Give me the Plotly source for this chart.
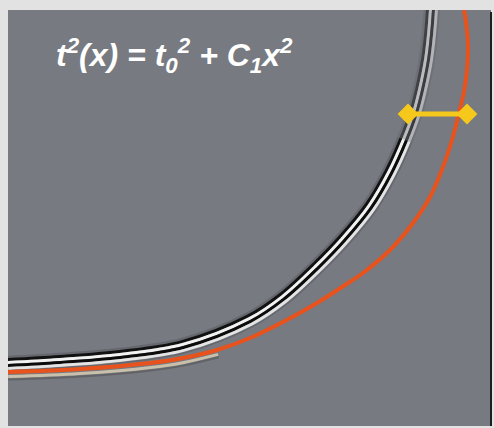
import numpy as np
import plotly.graph_objects as go

# picture coordinates (pixels, y grows downward)
event_x = [8, 60, 120, 183, 250, 283, 317, 343, 370, 390, 405, 415, 421, 427, 430, 432]
event_y = [364, 361, 356, 346, 320, 298, 267, 240, 207, 173, 140, 113, 90, 60, 35, 10]

fit_x = [8, 80, 150, 183, 217, 250, 283, 317, 345, 363, 390, 413, 430, 443, 452, 459, 464, 467, 468, 466, 464]
fit_y = [372, 369, 363, 358, 350, 338, 322, 303, 285, 273, 250, 223, 197, 167, 140, 113, 92, 70, 45, 22, 10]

moveout_x = [408, 467]
moveout_y = [114, 114]

equation = "t<sup>2</sup>(x) = t<sub>0</sub><sup>2</sup> + C<sub>1</sub>x<sup>2</sup>"

PANEL = "#777a80"
ORANGE = "#e8521c"
YELLOW = "#f6c81c"


def offset(xs, ys, d):
    """Shift a picked curve sideways by d pixels (positive = toward lower right)."""
    x = np.asarray(xs, float)
    y = np.asarray(ys, float)
    tx, ty = np.gradient(x), np.gradient(y)
    n = np.hypot(tx, ty)
    return x - ty / n * d, y + tx / n * d


fig = go.Figure()

# seismic wavelet: alternating troughs and peaks around the picked event
bands = [
    (-7, "rgba(50,52,58,0.25)", 2.5),
    (-4.5, "#121212", 3),
    (-1.5, "#f2f2f2", 3),
    (1.5, "#0c0c0c", 3),
    (4.5, "#e4e4e4", 3),
    (6.8, "rgba(60,62,68,0.3)", 2),
]
for d, col, w in bands:
    bx, by = offset(event_x, event_y, d)
    fig.add_trace(go.Scatter(x=bx, y=by, mode="lines", line=dict(color=col, width=w, shape="spline"),
                             hoverinfo="skip"))

# the event fades out toward the far offsets at the top
top = [i for i, v in enumerate(event_y) if v <= 140]
fig.add_trace(go.Scatter(x=[event_x[i] for i in top], y=[event_y[i] for i in top], mode="lines",
                         line=dict(color=PANEL, width=18, shape="spline"), opacity=0.45,
                         hoverinfo="skip"))

# faint second lobe hugging the fitted curve near the apex
near = [i for i, v in enumerate(fit_x) if v <= 217]
fx = [fit_x[i] for i in near]
fy = [fit_y[i] for i in near]
for d, col, w in [(4.5, "rgba(236,222,190,0.7)", 3), (7.5, "rgba(50,48,45,0.3)", 2)]:
    bx, by = offset(fx, fy, d)
    fig.add_trace(go.Scatter(x=bx, y=by, mode="lines", line=dict(color=col, width=w, shape="spline"),
                             hoverinfo="skip"))

# hyperbolic fit
fig.add_trace(go.Scatter(x=fit_x, y=fit_y, mode="lines",
                         line=dict(color=ORANGE, width=4, shape="spline"), hoverinfo="skip"))

# residual moveout marker
fig.add_trace(go.Scatter(x=moveout_x, y=moveout_y, mode="lines+markers",
                         line=dict(color=YELLOW, width=5),
                         marker=dict(symbol="diamond", size=16, color=YELLOW), hoverinfo="skip"))

fig.add_annotation(x=54, y=55, xref="x", yref="y", text=equation, showarrow=False,
                   xanchor="left", yanchor="middle",
                   font=dict(family="Liberation Sans", size=32, color="white",
                             weight="bold", style="italic"))

fig.add_shape(type="line", xref="paper", yref="paper", x0=1, x1=1, y0=0, y1=0.995,
              line=dict(color="#1e1e1e", width=2))

fig.update_layout(
    width=494, height=428, margin=dict(l=8, r=3, t=10, b=2),
    paper_bgcolor="#e2e2e2", plot_bgcolor=PANEL, showlegend=False,
)
fig.update_xaxes(range=[8, 491], visible=False)
fig.update_yaxes(range=[426, 10], visible=False)

# drop the page's default body margin so the figure fills the window
fig.write_html("out.html", config={"displayModeBar": False},
               post_script="document.body.style.margin='0';"
               "document.body.style.overflow='hidden';document.body.style.background='#e2e2e2';")
